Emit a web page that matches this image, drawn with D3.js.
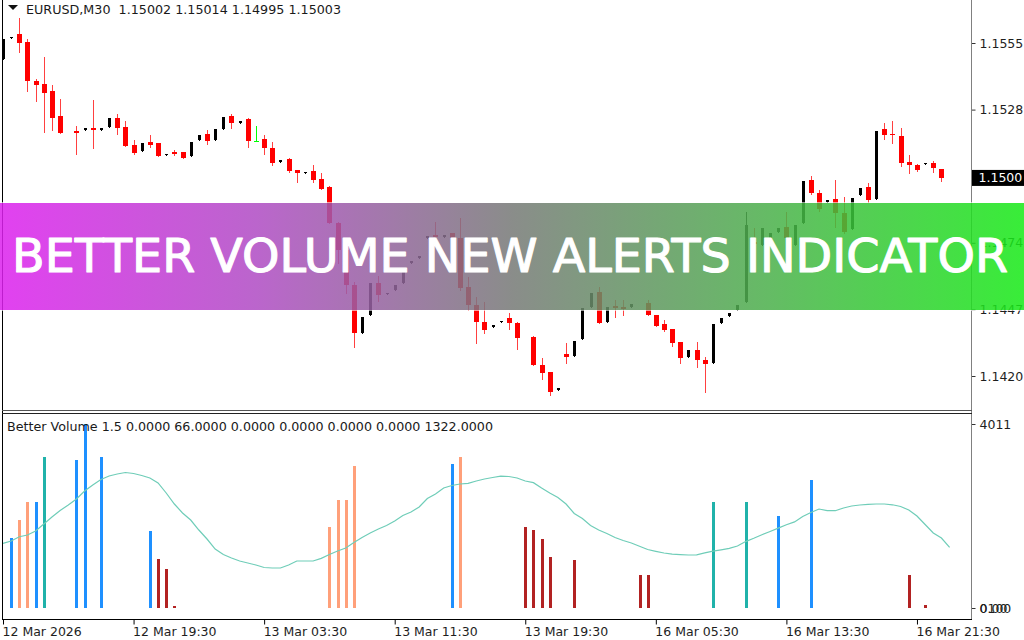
<!DOCTYPE html>
<html>
<head>
<meta charset="utf-8">
<script src="https://cdn.jsdelivr.net/npm/d3@7"></script>
<style>
  html, body { margin: 0; padding: 0; background: #ffffff; }
  svg { display: block; }
  text { font-family: "DejaVu Sans", "Liberation Sans", sans-serif; }
</style>
</head>
<body>
<svg id="chart" width="1024" height="640"></svg>
<script>
// ---------- DATA ----------
const symbolTitle = "EURUSD,M30  1.15002 1.15014 1.14995 1.15003";
const indicatorTitle = "Better Volume 1.5 0.0000 66.0000 0.0000 0.0000 0.0000 0.0000 1322.0000";
const bannerText = "BETTER VOLUME NEW ALERTS INDICATOR";

// bar index of each category tick label (M30 bars)
const timeTickIndex = [0, 16, 32, 48, 64, 80, 96, 112];
const timeTickLabels = ["12 Mar 2026", "12 Mar 19:30", "13 Mar 03:30", "13 Mar 11:30",
                        "13 Mar 19:30", "16 Mar 05:30", "16 Mar 13:30", "16 Mar 21:30"];
const priceTicks = [1.1555, 1.1528, 1.1501, 1.1474, 1.1447, 1.1420];
const lastPrice = 1.15003;

// OHLC per bar index (null = no visible bar)
const open = [1.15485,1.15570,1.15586,1.15554,1.15396,1.15384,1.15355,1.15254,null,1.15193,
  1.15196,1.15206,1.15198,1.15210,1.15246,1.15210,1.15137,1.15112,1.15149,1.15145,
  1.15096,1.15108,1.15108,1.15092,1.15157,1.15181,1.15157,1.15202,1.15254,1.15226,
  1.15242,1.15153,1.15161,1.15125,1.15068,1.15080,1.15034,1.15024,1.15031,1.14999,
  1.14967,1.14821,1.14712,1.14570,1.14375,1.14448,1.14578,1.14531,1.14550,1.14578,
  1.14659,1.14679,1.14760,1.14772,1.14764,1.14780,1.14760,1.14562,1.14489,1.14420,
  1.14400,1.14418,1.14436,1.14416,null,1.14359,1.14246,1.14217,1.14145,1.14290,
  1.14282,1.14351,1.14481,1.14541,1.14420,1.14483,1.14479,1.14481,null,1.14497,
  1.14448,1.14412,1.14392,1.14339,1.14278,1.14307,1.14266,1.14254,1.14416,1.14444,
  1.14469,1.14501,1.14744,1.14732,1.14760,1.14784,1.14805,1.14732,1.14821,1.14995,
  1.14942,1.14906,1.14918,1.14861,1.14797,1.14934,1.14967,1.14918,1.15202,1.15181,
  1.15173,1.15068,1.15056,1.15058,1.15064,1.15040];
const high = [1.15566,1.15576,1.15651,1.15566,1.15404,1.15493,1.15380,1.15323,null,1.15214,
  1.15204,1.15319,1.15204,1.15246,1.15262,1.15234,1.15157,1.15145,1.15177,1.15145,
  1.15102,1.15117,1.15108,1.15149,1.15177,1.15198,1.15202,1.15250,1.15262,1.15232,
  1.15246,1.15214,1.15177,1.15149,1.15074,1.15084,1.15036,1.15029,1.15056,1.15024,
  1.14971,1.14825,1.14716,1.14582,1.14440,1.14578,1.14606,1.14537,1.14570,1.14622,
  1.14665,1.14685,1.14766,1.14825,1.14770,1.14780,1.14841,1.14602,1.14521,1.14501,
  1.14406,1.14424,1.14456,1.14420,null,1.14363,1.14274,1.14217,1.14151,1.14335,
  1.14343,1.14477,1.14535,1.14562,1.14481,1.14509,1.14509,1.14493,null,1.14509,
  1.14448,1.14428,1.14392,1.14339,1.14307,1.14339,1.14278,1.14412,1.14436,1.14456,
  1.14489,1.14865,1.14801,1.14801,1.14780,1.14801,1.14865,1.14813,1.14991,1.15011,
  1.14955,1.14912,1.14995,1.14926,1.14922,1.14963,1.14983,1.15193,1.15226,1.15234,
  1.15206,1.15096,1.15060,1.15062,1.15072,1.15040];
const low = [1.15485,1.15570,1.15513,1.15355,1.15315,1.15189,1.15198,1.15185,null,1.15100,
  1.15196,1.15125,1.15198,1.15210,1.15181,1.15133,1.15100,1.15112,1.15129,1.15092,
  1.15096,1.15096,1.15084,1.15092,1.15157,1.15141,1.15157,1.15202,1.15206,1.15226,
  1.15129,1.15153,1.15100,1.15056,1.15068,1.15027,1.14987,1.15024,1.14987,1.14959,
  1.14821,1.14659,1.14537,1.14319,1.14375,1.14448,1.14505,1.14531,1.14550,1.14578,
  1.14659,1.14679,1.14760,1.14740,1.14764,1.14760,1.14550,1.14469,1.14335,1.14375,
  1.14400,1.14418,1.14392,1.14311,null,1.14246,1.14189,1.14124,1.14145,1.14254,
  1.14282,1.14351,1.14481,1.14416,1.14420,1.14440,1.14448,1.14481,null,1.14448,
  1.14404,1.14383,1.14323,1.14254,1.14278,1.14238,1.14136,1.14254,1.14416,1.14444,
  1.14469,1.14501,1.14732,1.14732,1.14760,1.14784,1.14752,1.14732,1.14821,1.14938,
  1.14869,1.14906,1.14805,1.14780,1.14797,1.14934,1.14906,1.14918,1.15161,1.15145,
  1.15052,1.15024,1.15031,1.15058,1.15027,1.14991];
const close = [1.15566,1.15576,1.15550,1.15396,1.15380,1.15347,1.15246,1.15185,null,1.15185,
  1.15204,1.15198,1.15204,1.15246,1.15206,1.15133,1.15104,1.15145,1.15137,1.15092,
  1.15102,1.15100,1.15084,1.15149,1.15177,1.15153,1.15202,1.15250,1.15226,1.15232,
  1.15153,1.15153,1.15125,1.15064,1.15074,1.15031,1.15024,1.15029,1.14995,1.14959,
  1.14821,1.14712,1.14570,1.14375,1.14440,1.14578,1.14529,1.14537,1.14570,1.14622,
  1.14665,1.14685,1.14766,1.14764,1.14770,1.14760,1.14558,1.14489,1.14420,1.14388,
  1.14406,1.14424,1.14416,1.14355,null,1.14246,1.14213,1.14136,1.14151,1.14278,
  1.14343,1.14477,1.14535,1.14416,1.14481,1.14477,1.14473,1.14493,null,1.14448,
  1.14404,1.14388,1.14335,1.14274,1.14307,1.14266,1.14250,1.14412,1.14436,1.14456,
  1.14489,1.14813,1.14736,1.14801,1.14780,1.14801,1.14760,1.14813,1.14991,1.14942,
  1.14878,1.14912,1.14861,1.14784,1.14922,1.14963,1.14914,1.15193,1.15177,1.15175,
  1.15064,1.15056,1.15036,1.15062,1.15044,1.15003];

// Better Volume indicator: visible bars (index, value, colour class)
const volIndex = [1,2,3,4,5,9,10,12,18,19,20,21,40,41,42,43,55,56,64,65,66,67,70,78,79,87,91,95,99,111,113];
const volValue = [1520,1918,2318,2318,3299,3227,4011,3299,1679,1075,850,45,1773,2355,2355,3096,3139,3299,
                  1759,1700,1498,1118,1046,719,719,2318,2318,2006,2790,719,66];
const volType  = ["climaxUp","highVol","highVol","climaxUp","churn","climaxUp","climaxUp","climaxUp",
                  "climaxUp","lowVol","lowVol","lowVol","highVol","highVol","highVol","highVol",
                  "climaxUp","highVol","lowVol","lowVol","lowVol","lowVol","lowVol","lowVol","lowVol",
                  "churn","churn","climaxUp","climaxUp","lowVol","lowVol"];
// volume moving average, one value per bar index
const volAverage = [1410,1461,1554,1591,1679,1831,1984,2126,2245,2376,
  2551,2681,2801,2878,2921,2954,2932,2889,2834,2725,
  2507,2267,2071,1918,1700,1504,1286,1166,1090,1025,
  981,937,883,872,872,937,1025,1025,1025,1083,
  1166,1243,1308,1428,1537,1635,1722,1799,1897,2017,
  2093,2202,2387,2485,2616,2671,2703,2718,2769,2812,
  2845,2873,2867,2834,2769,2732,2616,2507,2409,2267,
  2060,1951,1799,1700,1624,1537,1472,1417,1345,1275,
  1236,1199,1173,1164,1155,1160,1203,1238,1269,1301,
  1352,1448,1519,1596,1668,1740,1816,1877,1995,2082,
  2158,2121,2121,2180,2224,2245,2261,2267,2267,2250,
  2213,2136,2006,1820,1635,1526,1322];
const volAxisMax = 4011;

// ---------- STYLE ----------
const volColors = { climaxUp: "#1e90ff", highVol: "#ffa07a", churn: "#20b2aa", lowVol: "#b22222" };
const bullColor = "#000000", bearColor = "#ff0000", bearWick = "#ff4040", dojiColor = "#00ff00";

// ---------- LAYOUT ----------
const svg = d3.select("#chart");
const axisX = 971.5;
const x = d3.scaleLinear().domain([0, 116]).range([3, 949.6]);
const yP = d3.scaleLinear().domain([1.1420, 1.1555]).range([376, 43]);
const yV = d3.scaleLinear().domain([0, volAxisMax]).range([608, 424]);

const bars = d3.range(open.length)
  .filter(i => open[i] !== null)
  .map(i => ({ i, o: open[i], h: high[i], l: low[i], c: close[i] }));

// ---------- MAIN PRICE PANEL ----------
const gMain = svg.append("g").attr("shape-rendering", "crispEdges");

// price axis
const priceAxis = d3.axisRight(yP).tickValues(priceTicks).tickSize(4).tickPadding(4)
  .tickFormat(d3.format(".4f"));
const gPA = svg.append("g").attr("transform", `translate(${axisX},0)`).call(priceAxis);
gPA.select(".domain").remove();
gPA.selectAll(".tick line").attr("stroke", "#333");
gPA.selectAll(".tick text").attr("font-size", 12.5).attr("fill", "#1e1e1e")
  .attr("font-family", "'DejaVu Sans', sans-serif");

// candles
const cg = gMain.append("g");
bars.forEach(b => {
  const cx = Math.round(x(b.i));
  const doji = b.o === b.c;
  const bull = b.c > b.o;
  const col = doji ? dojiColor : (bull ? bullColor : bearColor);
  const wcol = doji ? dojiColor : (bull ? bullColor : bearWick);
  const yH = Math.round(yP(b.h)), yL = Math.round(yP(b.l));
  if (yL - yH > 0) {
    cg.append("rect").attr("x", cx).attr("y", yH).attr("width", 1).attr("height", yL - yH + 1).attr("fill", wcol);
  }
  const yTop = Math.round(yP(Math.max(b.o, b.c)));
  const yBot = Math.round(yP(Math.min(b.o, b.c)));
  const w = doji ? 5 : (bull ? 3 : 5);
  const xOff = doji ? 2 : (bull ? 1 : 2);
  cg.append("rect").attr("x", cx - xOff).attr("y", yTop).attr("width", w)
    .attr("height", Math.max(1, yBot - yTop + (doji ? 1 : 0))).attr("fill", col);
});

// current price label box
const lp = yP(lastPrice);
svg.append("rect").attr("x", axisX).attr("y", lp - 8).attr("width", 1024 - axisX).attr("height", 16).attr("fill", "#000");
svg.append("text").attr("x", axisX + 7).attr("y", lp + 4.5).attr("fill", "#fff").attr("font-size", 12.5)
  .text(d3.format(".4f")(lastPrice));

// symbol title
svg.append("path").attr("d", "M8,5 L18,5 L13,10 Z").attr("fill", "#111");
svg.append("text").attr("x", 26).attr("y", 13.5).attr("font-size", 12.5).attr("fill", "#1a1a1a")
  .attr("textLength", 315).attr("lengthAdjust", "spacingAndGlyphs").attr("xml:space", "preserve")
  .text(symbolTitle);

// ---------- VOLUME SUB PANEL ----------
const gSub = svg.append("g").attr("shape-rendering", "crispEdges");
const vols = volIndex.map((idx, k) => ({ i: idx, v: volValue[k], t: volType[k] }));
gSub.selectAll("rect.vol").data(vols).enter().append("rect")
  .attr("class", "vol")
  .attr("x", d => Math.round(x(d.i)) - 1)
  .attr("y", d => Math.round(yV(d.v)))
  .attr("width", 3)
  .attr("height", d => Math.max(2, 608 - Math.round(yV(d.v))))
  .attr("fill", d => volColors[d.t]);

const line = d3.line().x((d, i) => x(i)).y(d => yV(d)).curve(d3.curveLinear);
svg.append("path").datum(volAverage).attr("d", line).attr("fill", "none")
  .attr("stroke", "#6fcdb8").attr("stroke-width", 1.2);

svg.append("text").attr("x", 7).attr("y", 431).attr("font-size", 12.5).attr("fill", "#1a1a1a")
  .attr("textLength", 486).attr("lengthAdjust", "spacingAndGlyphs").text(indicatorTitle);

// volume axis
const volAxis = d3.axisRight(yV).tickValues([volAxisMax, 0]).tickSize(4).tickPadding(4)
  .tickFormat(d => d === 0 ? "0.00" : String(d));
const gVA = svg.append("g").attr("transform", `translate(${axisX},0)`).call(volAxis);
gVA.select(".domain").remove();
gVA.selectAll(".tick line").attr("stroke", "#333");
gVA.selectAll(".tick text").attr("font-size", 12.5).attr("fill", "#1e1e1e")
  .attr("font-family", "'DejaVu Sans', sans-serif");
gVA.selectAll(".tick").filter(d => d === 0).append("text")
  .attr("x", 8).attr("dy", "0.32em").attr("font-size", 12.5).attr("fill", "#1e1e1e")
  .attr("font-family", "'DejaVu Sans', sans-serif").text("0100");

// ---------- FRAMES ----------
const frame = svg.append("g").attr("shape-rendering", "crispEdges");
frame.append("line").attr("x1", 2.5).attr("x2", 2.5).attr("y1", 0).attr("y2", 620).attr("stroke", "#000");
frame.append("line").attr("x1", axisX).attr("x2", axisX).attr("y1", 0).attr("y2", 620).attr("stroke", "#808080");
frame.append("line").attr("x1", 2).attr("x2", axisX).attr("y1", 410.5).attr("y2", 410.5).attr("stroke", "#555");
frame.append("line").attr("x1", 2).attr("x2", axisX).attr("y1", 413.5).attr("y2", 413.5).attr("stroke", "#222");
frame.append("line").attr("x1", 2).attr("x2", axisX).attr("y1", 619.5).attr("y2", 619.5).attr("stroke", "#000");

// time axis
const tAxis = d3.axisBottom(x).tickValues(timeTickIndex).tickSize(5).tickPadding(3)
  .tickFormat((d, k) => timeTickLabels[k]);
const gTA = svg.append("g").attr("transform", "translate(0,619.5)").call(tAxis);
gTA.select(".domain").remove();
gTA.selectAll(".tick line").attr("stroke", "#000");
gTA.selectAll(".tick text").attr("text-anchor", "start").attr("font-size", 12.5).attr("fill", "#1e1e1e")
  .attr("font-family", "'DejaVu Sans', sans-serif").attr("dx", -1);

// ---------- BANNER ----------
const defs = svg.append("defs");
const grad = defs.append("linearGradient").attr("id", "bannerGrad").attr("x1", "0%").attr("x2", "100%");
grad.append("stop").attr("offset", "0%").attr("stop-color", "#dd22ee");
grad.append("stop").attr("offset", "25%").attr("stop-color", "#b04cc4");
grad.append("stop").attr("offset", "50%").attr("stop-color", "#777a77");
grad.append("stop").attr("offset", "75%").attr("stop-color", "#4cb04c");
grad.append("stop").attr("offset", "100%").attr("stop-color", "#18ea18");
svg.append("rect").attr("x", 0).attr("y", 203).attr("width", 1024).attr("height", 107)
  .attr("fill", "url(#bannerGrad)").attr("opacity", 0.86);
svg.append("line").attr("x1", 0).attr("x2", 1024).attr("y1", 202.5).attr("y2", 202.5)
  .attr("stroke", "#fff").attr("stroke-opacity", 0.6);
svg.append("line").attr("x1", 0).attr("x2", 1024).attr("y1", 310.5).attr("y2", 310.5)
  .attr("stroke", "#fff").attr("stroke-opacity", 0.6);
svg.append("text").attr("x", 12).attr("y", 272).attr("fill", "#ffffff")
  .attr("stroke", "#ffffff").attr("stroke-width", 1.1).attr("stroke-linejoin", "round")
  .attr("font-family", "'Open Sans', 'Lato', sans-serif").attr("font-weight", 500)
  .attr("font-size", 47).attr("textLength", 996).attr("lengthAdjust", "spacingAndGlyphs")
  .text(bannerText);
</script>
</body>
</html>
